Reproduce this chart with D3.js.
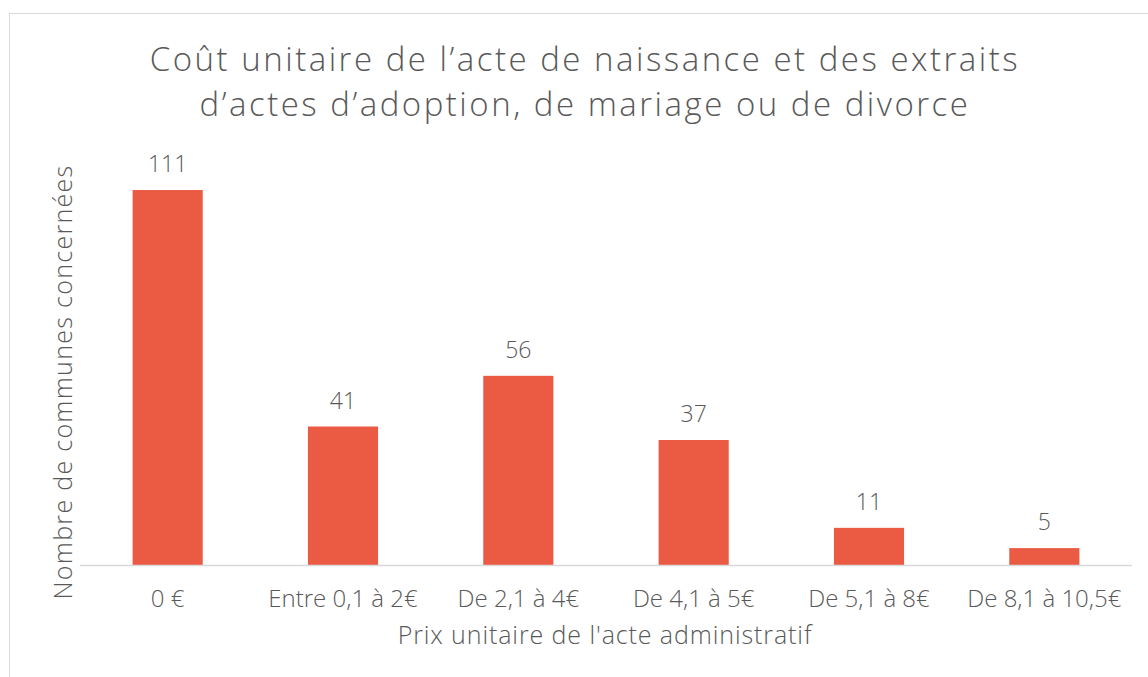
<!DOCTYPE html>
<html><head><meta charset="utf-8">
<script src="https://cdn.jsdelivr.net/npm/d3@7"></script>
<style>
body{margin:0;background:#fff;}
svg text{font-family:"Open Sans","Noto Sans",sans-serif;fill:#595959;font-weight:300;}
</style></head>
<body>
<svg id="c" width="1148" height="677"></svg>
<script>
const categories = ["0 €", "Entre 0,1 à 2€", "De 2,1 à 4€", "De 4,1 à 5€", "De 5,1 à 8€", "De 8,1 à 10,5€"];
const values = [111, 41, 56, 37, 11, 5];
const titleLines = ["Coût unitaire de l’acte de naissance et des extraits", "d’actes d’adoption, de mariage ou de divorce"];
const xTitle = "Prix unitaire de l'acte administratif";
const yTitle = "Nombre de communes concernées";

const svg = d3.select("#c");
svg.append("rect").attr("x",9.5).attr("y",13.5).attr("width",1160).attr("height",700)
  .attr("fill","none").attr("stroke","#d9d9d9").attr("stroke-width",1);

const x = d3.scaleBand().domain(categories).range([80,1132]).paddingInner(0.6).paddingOuter(0.3);
const y = d3.scaleLinear().domain([0,120]).range([565, 565-120*3.378]);

svg.selectAll("rect.bar").data(values).join("rect").attr("class","bar")
  .attr("x",(d,i)=>x(categories[i])).attr("width",x.bandwidth())
  .attr("y",d=>y(d)).attr("height",d=>y(0)-y(d)).attr("fill","#eb5a42");

svg.append("line").attr("x1",80).attr("x2",1132).attr("y1",y(0)+0.5).attr("y2",y(0)+0.5)
  .attr("stroke","#d9d9d9").attr("stroke-width",1.5);

svg.selectAll("text.lab").data(values).join("text").attr("class","lab")
  .attr("x",(d,i)=>x(categories[i])+x.bandwidth()/2).attr("y",d=>y(d)-18)
  .attr("text-anchor","middle").attr("font-size",23).text(d=>d);

const xa = d3.axisBottom(x).tickSize(0).tickPadding(0);
const g = svg.append("g").attr("transform",`translate(0,${y(0)})`).call(xa);
g.select(".domain").remove();
g.selectAll("text").attr("font-size",24).attr("font-family",null).attr("fill",null).attr("dy",null).attr("y",42);

svg.append("text").attr("x",605).attr("y",644).attr("text-anchor","middle").attr("font-size",25)
  .attr("letter-spacing",0.9).text(xTitle);
svg.append("text").attr("transform","translate(72,382) rotate(-90)").attr("text-anchor","middle").attr("font-size",25)
  .attr("letter-spacing",1.3).text(yTitle);

const title = svg.append("text").attr("text-anchor","middle").attr("font-size",33).attr("letter-spacing",2.5);
title.selectAll("tspan").data(titleLines).join("tspan")
  .attr("x",585).attr("y",(d,i)=>70.5+i*45).text(d=>d);
</script>
</body></html>
